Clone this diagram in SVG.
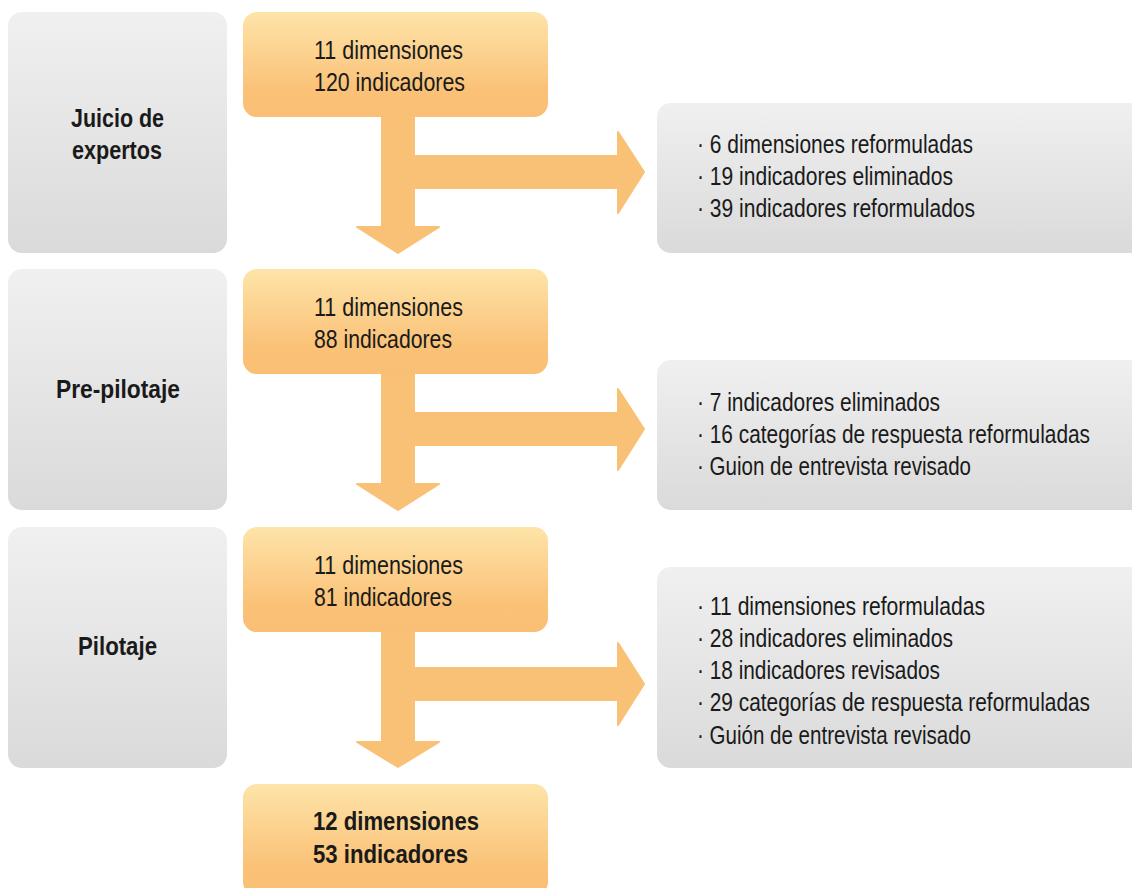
<svg xmlns="http://www.w3.org/2000/svg" width="1132" height="888" viewBox="0 0 1132 888">
<defs>
<linearGradient id="gGray" x1="0" y1="0" x2="0" y2="1">
<stop offset="0" stop-color="#f0f0f0"/><stop offset="1" stop-color="#dadada"/>
</linearGradient>
<linearGradient id="gOr" x1="0" y1="0" x2="0" y2="1">
<stop offset="0" stop-color="#fee4a9"/><stop offset="0.75" stop-color="#fac177"/><stop offset="1" stop-color="#f9bf75"/>
</linearGradient>
<style>
.gray{fill:url(#gGray)}
.or{fill:url(#gOr)}
.arr{fill:#f9c176;stroke:#f9c176;stroke-width:2;stroke-linejoin:round}
text{font-family:"Liberation Sans",Arial,sans-serif;fill:#1a1a1a;font-size:26px}
.b{font-weight:bold;font-size:25px}
.r{font-size:25px}
</style>
</defs>
<g id="connectors">
<path class="arr" d="M382,110 L414,110 L414,156 L618,156 L618,132 L644,172 L618,213 L618,188 L414,188 L414,227 L439,227 L398,253 L357,227 L382,227 Z"/>
<path class="arr" d="M382,367 L414,367 L414,413 L618,413 L618,389 L644,429 L618,470 L618,445 L414,445 L414,484 L439,484 L398,510 L357,484 L382,484 Z"/>
<path class="arr" d="M382,625 L414,625 L414,668 L618,668 L618,643 L644,684 L618,725 L618,700 L414,700 L414,742 L439,742 L398,767 L357,742 L382,742 Z"/>
</g>
<g id="stage1">
<rect class="gray" x="8" y="12" width="219" height="241" rx="14"/>
<text class="b" x="71" y="127" textLength="93" lengthAdjust="spacingAndGlyphs">Juicio de</text>
<text class="b" x="72" y="159" textLength="90" lengthAdjust="spacingAndGlyphs">expertos</text>
</g>
<g id="stage2">
<rect class="gray" x="8" y="269" width="219" height="241" rx="14"/>
<text class="b" x="56" y="398" textLength="124" lengthAdjust="spacingAndGlyphs">Pre-pilotaje</text>
</g>
<g id="stage3">
<rect class="gray" x="8" y="527" width="219" height="241" rx="14"/>
<text class="b" x="78" y="655" textLength="79" lengthAdjust="spacingAndGlyphs">Pilotaje</text>
</g>
<g id="box1">
<rect class="or" x="243" y="12" width="305" height="105" rx="14"/>
<text x="314" y="59" textLength="149" lengthAdjust="spacingAndGlyphs">11 dimensiones</text>
<text x="314" y="91" textLength="151" lengthAdjust="spacingAndGlyphs">120 indicadores</text>
</g>
<g id="box2">
<rect class="or" x="243" y="269" width="305" height="105" rx="14"/>
<text x="314" y="316" textLength="149" lengthAdjust="spacingAndGlyphs">11 dimensiones</text>
<text x="314" y="348" textLength="138" lengthAdjust="spacingAndGlyphs">88 indicadores</text>
</g>
<g id="box3">
<rect class="or" x="243" y="527" width="305" height="105" rx="14"/>
<text x="314" y="574" textLength="149" lengthAdjust="spacingAndGlyphs">11 dimensiones</text>
<text x="314" y="606" textLength="138" lengthAdjust="spacingAndGlyphs">81 indicadores</text>
</g>
<g id="box4">
<rect class="or" x="243" y="784" width="305" height="112" rx="14"/>
<text class="b" x="313" y="830" textLength="166" lengthAdjust="spacingAndGlyphs">12 dimensiones</text>
<text class="b" x="313" y="863" textLength="155" lengthAdjust="spacingAndGlyphs">53 indicadores</text>
</g>
<g id="changes1">
<rect class="gray" x="657" y="103" width="490" height="150" rx="14"/>
<g transform="translate(697,0) scale(0.85,1)">
<text class="r" x="0" y="153" textLength="324.7" lengthAdjust="spacingAndGlyphs">· 6 dimensiones reformuladas</text>
<text class="r" x="0" y="185" textLength="301.2" lengthAdjust="spacingAndGlyphs">· 19 indicadores eliminados</text>
<text class="r" x="0" y="217" textLength="327.1" lengthAdjust="spacingAndGlyphs">· 39 indicadores reformulados</text>
</g>
</g>
<g id="changes2">
<rect class="gray" x="657" y="360" width="490" height="150" rx="14"/>
<g transform="translate(697,0) scale(0.85,1)">
<text class="r" x="0" y="411" textLength="285.9" lengthAdjust="spacingAndGlyphs">· 7 indicadores eliminados</text>
<text class="r" x="0" y="443" textLength="462.4" lengthAdjust="spacingAndGlyphs">· 16 categorías de respuesta reformuladas</text>
<text class="r" x="0" y="475" textLength="322.4" lengthAdjust="spacingAndGlyphs">· Guion de entrevista revisado</text>
</g>
</g>
<g id="changes3">
<rect class="gray" x="657" y="567" width="490" height="201" rx="14"/>
<g transform="translate(697,0) scale(0.85,1)">
<text class="r" x="0" y="615" textLength="338.8" lengthAdjust="spacingAndGlyphs">· 11 dimensiones reformuladas</text>
<text class="r" x="0" y="647" textLength="301.2" lengthAdjust="spacingAndGlyphs">· 28 indicadores eliminados</text>
<text class="r" x="0" y="679" textLength="285.9" lengthAdjust="spacingAndGlyphs">· 18 indicadores revisados</text>
<text class="r" x="0" y="711" textLength="462.4" lengthAdjust="spacingAndGlyphs">· 29 categorías de respuesta reformuladas</text>
<text class="r" x="0" y="744" textLength="322.4" lengthAdjust="spacingAndGlyphs">· Guión de entrevista revisado</text>
</g>
</g>
</svg>
